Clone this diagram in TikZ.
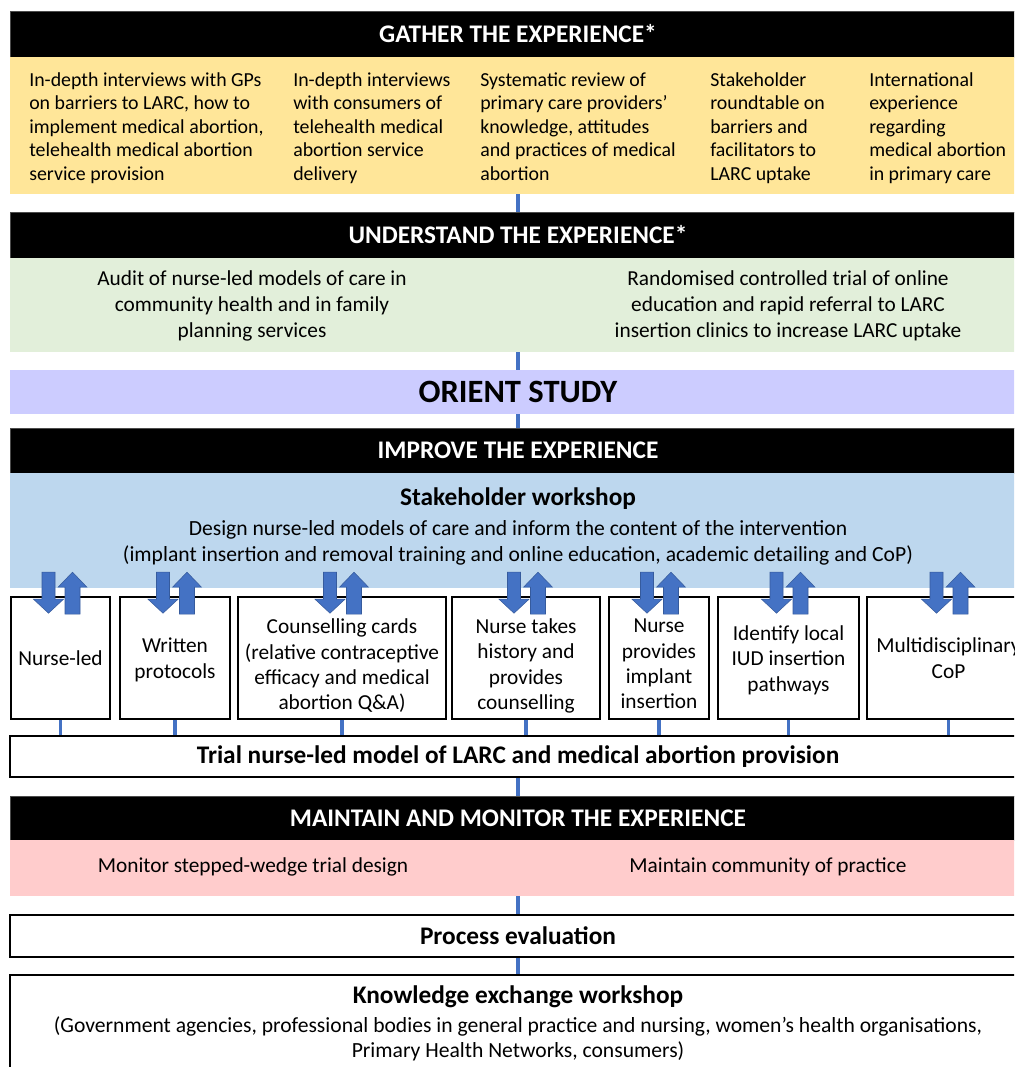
\documentclass[tikz,border=0pt]{standalone}
\usepackage{fontspec}
\setmainfont{Carlito}
\usetikzlibrary{fit}

\definecolor{gatheryellow}{HTML}{FFE699}
\definecolor{understandgreen}{HTML}{E2EFDA}
\definecolor{orientlilac}{HTML}{CCCCFF}
\definecolor{improveblue}{HTML}{BDD7EE}
\definecolor{maintainpink}{HTML}{FFCCCC}
\definecolor{linkblue}{HTML}{4472C4}

\tikzset{
  blackbar/.style={fill=black, draw=black!70, inner sep=0pt},
  band/.style={draw=none, inner sep=0pt},
  framebox/.style={draw=black, fill=white, line width=1.2pt, inner sep=0pt},
  bartext/.style={text=white, inner sep=0pt, font=\bfseries\fontsize{19}{22}\selectfont},
  gtext/.style={anchor=north west, align=left, inner sep=0pt,
    font=\fontsize{14.9}{17.7}\selectfont},
  ctext/.style={align=center, inner sep=0pt, font=\fontsize{16}{19.5}\selectfont},
  itemtext/.style={align=center, inner sep=0pt, font=\fontsize{16}{19}\selectfont},
  headtext/.style={inner sep=0pt, font=\bfseries\fontsize{19}{22}\selectfont},
  link/.style={draw=linkblue, line width=2.4pt},
  blockarrow/.style={fill=linkblue, draw=linkblue!80!black, line width=0.4pt}
}

\begin{document}
\begin{tikzpicture}[x=0.75pt, y=-0.75pt]
 \useasboundingbox (0,0) rectangle (1014,1067);
 \clip (0,0) rectangle (1014,1067);

 % gather
 \node[blackbar, fit={(10,11) (1026,57)}] (gather) {};
 \node[bartext] (gather-t) at (gather.center) {GATHER THE EXPERIENCE*};
 \node[band, fill=gatheryellow, fit={(10,57) (1026,194)}] (gatherbox) {};
 \node[gtext] (g1) at (29,72) {In-depth interviews with GPs\\on barriers to LARC, how to\\implement medical abortion,\\telehealth medical abortion\\service provision};
 \node[gtext] (g2) at (293,72) {In-depth interviews\\with consumers of\\telehealth medical\\abortion service\\delivery};
 \node[gtext] (g3) at (480,72) {Systematic review of\\primary care providers’\\knowledge, attitudes\\and practices of medical\\abortion};
 \node[gtext] (g4) at (710,72) {Stakeholder\\roundtable on\\barriers and\\facilitators to\\LARC uptake};
 \node[gtext] (g5) at (869,72) {International\\experience\\regarding\\medical abortion\\in primary care};

 % understand
 \node[blackbar, fit={(10,212) (1026,258)}] (understand) {};
 \node[bartext] (understand-t) at (understand.center) {UNDERSTAND THE EXPERIENCE*};
 \node[band, fill=understandgreen, fit={(10,258) (1026,352)}] (understandbox) {};
 \node[ctext] (u1) at (252,306) {Audit of nurse-led models of care in\\community health and in family\\planning services};
 \node[ctext] (u2) at (788,306) {Randomised controlled trial of online\\education and rapid referral to LARC\\insertion clinics to increase LARC uptake};

 % orient
 \node[band, fill=orientlilac, fit={(10,370) (1026,414)}] (orient) {};
 \node[inner sep=0pt, font=\bfseries\fontsize{24.4}{28}\selectfont] (orient-t) at (orient.center) {ORIENT STUDY};

 % improve
 \node[blackbar, fit={(10,428) (1026,473)}] (improve) {};
 \node[bartext] (improve-t) at (improve.center) {IMPROVE THE EXPERIENCE};
 \node[band, fill=improveblue, fit={(10,473) (1026,588)}] (improvebox) {};
 \node[headtext] (sw) at (518,499) {Stakeholder workshop};
 \node[ctext, font=\fontsize{16.2}{19.5}\selectfont] (swd) at (518,543) {Design nurse-led models of care and inform the content of the intervention\\(implant insertion and removal training and online education, academic detailing and CoP)};

 % components
 \foreach \nm/\xa/\xb/\lbl/\dy in {
   nurseled/11/110/{Nurse-led}/0,
   written/120/230/{Written\\protocols}/2,
   cards/238/446/{Counselling cards\\(relative contraceptive\\efficacy and medical\\abortion Q\&A)}/8,
   history/452/600/{Nurse takes\\history and\\provides\\counselling}/8,
   implant/609/709/{Nurse\\provides\\implant\\insertion}/6,
   iud/718/859/{Identify local\\IUD insertion\\pathways}/2,
   cop/867/1030/{Multidisciplinary\\CoP}/0} {
   \node[framebox, fit={(\xa,597) (\xb,719)}] (\nm) {};
   \node[itemtext] (\nm-t) at ([yshift={-\dy*0.75pt}]\nm.center) {\lbl};
 }

 % two-way arrows
 \foreach \nm in {nurseled,written,cards,history,implant,iud,cop} {
   \filldraw[blockarrow, shift={(\nm.north)}] (-18.5,-24) -- (-5.5,-24) -- (-5.5,3) -- (3,3)
     -- (-12,17) -- (-27,3) -- (-18.5,3) -- cycle;
   \filldraw[blockarrow, shift={(\nm.north)}] (4.5,18) -- (19.5,18) -- (19.5,-9) -- (26.5,-9)
     -- (12,-24) -- (-2.5,-9) -- (4.5,-9) -- cycle;
 }

 % trial
 \node[framebox, fit={(10,736) (1026,777)}] (trial) {};
 \node[headtext] (trial-t) at (trial.center) {Trial nurse-led model of LARC and medical abortion provision};
 \foreach \nm in {nurseled,written,cards,history,implant,iud,cop}
   \draw[link] (\nm.south) -- (\nm.south |- trial.north);

 % maintain
 \node[blackbar, fit={(10,796) (1026,840)}] (maintain) {};
 \node[bartext] (maintain-t) at (maintain.center) {MAINTAIN AND MONITOR THE EXPERIENCE};
 \node[band, fill=maintainpink, fit={(10,840) (1026,896)}] (maintainbox) {};
 \node[ctext] (m1) at (253,867) {Monitor stepped-wedge trial design};
 \node[ctext] (m2) at (768,867) {Maintain community of practice};

 % evaluation
 \node[framebox, fit={(10,915) (1026,957)}] (process) {};
 \node[headtext] (process-t) at (process.center) {Process evaluation};
 \node[framebox, fit={(10,975) (1026,1100)}] (knowledge) {};
 \node[headtext] (ke) at (518,997) {Knowledge exchange workshop};
 \node[ctext, font=\fontsize{16.2}{18.75}\selectfont] (ked) at (518,1039)
   {(Government agencies, professional bodies in general practice and nursing, women’s health organisations,\\Primary Health Networks, consumers)};

 % links
 \draw[link] (gatherbox.south) -- (understand.north);
 \draw[link] (understandbox.south) -- (orient.north);
 \draw[link] (orient.south) -- (improve.north);
 \draw[link] (trial.south) -- (maintain.north);
 \draw[link] (maintainbox.south) -- (process.north);
 \draw[link] (process.south) -- (knowledge.north);
\end{tikzpicture}
\end{document}
